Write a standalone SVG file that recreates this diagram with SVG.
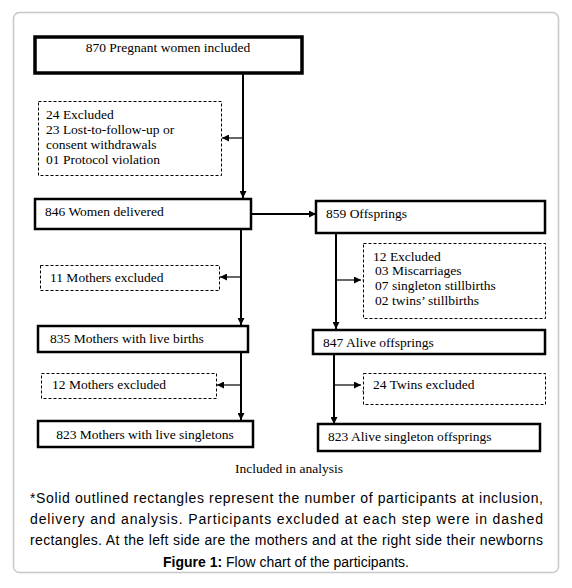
<svg xmlns="http://www.w3.org/2000/svg" width="572" height="588" viewBox="0 0 572 588">
<style>
.solid{fill:#fff;stroke:#000;stroke-width:2.5}
.thick{fill:#fff;stroke:#000;stroke-width:3.5}
.dash{fill:#fff;stroke:#000;stroke-width:1;stroke-dasharray:3,2}
.t{font-family:"Liberation Serif","Times New Roman",serif;font-size:13.5px;fill:#000}
.ln{stroke:#000;stroke-width:2;fill:none}
.thin{stroke:#000;stroke-width:1.2;fill:none}
.cap{font-family:"Liberation Sans",Arial,sans-serif;font-size:14px;fill:#000}
</style>
<defs>
<marker id="ah" viewBox="0 0 10 10" refX="10" refY="5" markerWidth="7" markerHeight="7" markerUnits="userSpaceOnUse" orient="auto">
<path d="M0,0 L10,5 L0,10 Z" fill="#000"/>
</marker>
</defs>
<rect x="13.5" y="12.5" width="545" height="560" rx="6" fill="#fff" stroke="#c8c8c8" stroke-width="1.5"/>

<g id="connectors">
<line class="ln" x1="243" y1="73" x2="243" y2="198" marker-end="url(#ah)"/>
<line class="thin" x1="243" y1="138" x2="222" y2="138" marker-end="url(#ah)"/>
<line class="ln" x1="251" y1="214" x2="316" y2="214" marker-end="url(#ah)"/>
<line class="ln" x1="241" y1="229" x2="241" y2="325" marker-end="url(#ah)"/>
<line class="thin" x1="241" y1="277" x2="220" y2="277" marker-end="url(#ah)"/>
<line class="ln" x1="336" y1="233" x2="336" y2="329" marker-end="url(#ah)"/>
<line class="thin" x1="336" y1="280" x2="361" y2="280" marker-end="url(#ah)"/>
<path d="M368,277 L362,280 L368,283 Z" fill="#000"/>
<line class="ln" x1="241" y1="352" x2="241" y2="420" marker-end="url(#ah)"/>
<line class="thin" x1="241" y1="385" x2="217" y2="385" marker-end="url(#ah)"/>
<line class="ln" x1="334" y1="354" x2="334" y2="424" marker-end="url(#ah)"/>
<line class="thin" x1="334" y1="385" x2="361" y2="385" marker-end="url(#ah)"/>
<path d="M368,388 L362,391 L367,394 Z" fill="#000"/>
</g>

<g id="n870">
<rect class="thick" x="35" y="37" width="267" height="36"/>
<text class="t" x="168" y="52" text-anchor="middle">870 Pregnant women included</text>
</g>
<g id="ex24">
<rect class="dash" x="38.5" y="101.5" width="183" height="74"/>
<text class="t" x="46" y="119">24 Excluded</text>
<text class="t" x="46" y="134">23 Lost-to-follow-up or</text>
<text class="t" x="46" y="149">consent withdrawals</text>
<text class="t" x="46" y="164">01 Protocol violation</text>
</g>
<g id="n846">
<rect class="solid" x="35" y="199" width="216" height="30"/>
<text class="t" x="45" y="216">846 Women delivered</text>
</g>
<g id="n859">
<rect class="solid" x="316" y="201" width="229" height="32"/>
<text class="t" x="326" y="218">859 Offsprings</text>
</g>
<g id="ex11">
<rect class="dash" x="40.5" y="265.5" width="179" height="25"/>
<text class="t" x="50" y="282">11 Mothers excluded</text>
</g>
<g id="ex12">
<rect class="dash" x="363.5" y="243.5" width="182" height="75"/>
<text class="t" x="373" y="261">12 Excluded</text>
<text class="t" x="375" y="275">03 Miscarriages</text>
<text class="t" x="375" y="290">07 singleton stillbirths</text>
<text class="t" x="375" y="305">02 twins’ stillbirths</text>
</g>
<g id="n835">
<rect class="solid" x="38" y="326" width="210" height="26"/>
<text class="t" x="50" y="343">835 Mothers with live births</text>
</g>
<g id="n847">
<rect class="solid" x="313" y="330" width="232" height="24"/>
<text class="t" x="323" y="347">847 Alive offsprings</text>
</g>
<g id="ex12m">
<rect class="dash" x="41.5" y="373.5" width="175" height="25"/>
<text class="t" x="52" y="389">12 Mothers excluded</text>
</g>
<g id="ex24t">
<rect class="dash" x="363.5" y="373.5" width="182" height="31"/>
<text class="t" x="373" y="389">24 Twins excluded</text>
</g>
<g id="n823l">
<rect class="solid" x="38" y="421" width="215" height="26"/>
<text class="t" x="145" y="439" text-anchor="middle">823 Mothers with live singletons</text>
</g>
<g id="n823r">
<rect class="solid" x="318" y="424" width="222" height="27"/>
<text class="t" x="328" y="441">823 Alive singleton offsprings</text>
</g>

<text class="t" x="289" y="473" text-anchor="middle">Included in analysis</text>
<text class="cap" x="30" y="503" textLength="513" lengthAdjust="spacing">*Solid outlined rectangles represent the number of participants at inclusion,</text>
<text class="cap" x="30" y="524" textLength="513" lengthAdjust="spacing">delivery and analysis. Participants excluded at each step were in dashed</text>
<text class="cap" x="30" y="545" textLength="513" lengthAdjust="spacing">rectangles. At the left side are the mothers and at the right side their newborns</text>
<text class="cap" x="286" y="567" text-anchor="middle"><tspan font-weight="bold">Figure 1:</tspan> Flow chart of the participants.</text>
</svg>
